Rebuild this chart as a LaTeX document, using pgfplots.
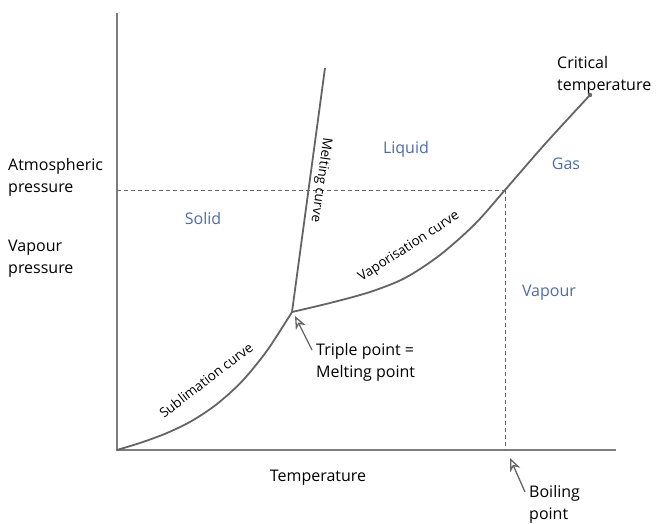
\documentclass[border=0pt]{standalone}
\usepackage{pgfplots}
\pgfplotsset{compat=1.18}
\usepackage{fontspec}
\setmainfont{Open Sans}
\usetikzlibrary{arrows.meta}
\definecolor{axisgray}{RGB}{125,125,125}
\definecolor{curvegray}{RGB}{100,100,100}
\definecolor{phaseblue}{RGB}{78,108,168}
\begin{document}
\begin{tikzpicture}[
    font=\fontsize{16}{22}\selectfont,
    curvelbl/.style={font=\fontsize{13.5}{16}\selectfont, inner sep=0pt},
    blk/.style={anchor=north west, align=left, inner sep=0pt},
    tip/.style={curvegray, line width=1.3pt, -{Stealth[open, length=13pt, width=11pt, inset=4pt]}},
]
\begin{axis}[
    scale only axis,
    width=499pt, height=437pt,
    xmin=0, xmax=499,
    ymin=0, ymax=437,
    axis lines=none,
    clip=false,
]
% bounding box of the whole figure
\path (axis cs:-117,-71) rectangle (axis cs:539,450);

% axes
\addplot[axisgray, line width=2pt] coordinates {(0,437)(0,0)(499,0)};

% dashed guide lines
\addplot[curvegray, line width=1pt, dash pattern=on 4pt off 3pt] coordinates {(0,260)(388,260)};
\addplot[curvegray, line width=1pt, dash pattern=on 4pt off 3pt] coordinates {(388,260)(388,0)};

% sublimation curve
\addplot[curvegray, line width=1.8pt, smooth] coordinates {
    (0,0)(25,7.7)(50,17)(75,29.2)(100,46)(125,68.7)(150,99.3)(175,138)
};
% melting curve
\addplot[curvegray, line width=1.8pt] coordinates {(175,138)(208,382)};
% vaporisation curve
\addplot[curvegray, line width=1.8pt, smooth] coordinates {
    (175,138)(213,147)(253,158)(288,172)(323,195)(358,226)(388,260)(428,306)(473,355)
};
% critical point
\addplot[curvegray, only marks, mark=*, mark size=2pt] coordinates {(473,355)};

% arrows
\draw[tip] (axis cs:195,100) -- (axis cs:178,134);
\draw[tip] (axis cs:408,-42) -- (axis cs:393,-8);

% phase labels
\node[phaseblue, anchor=base] at (axis cs:289,297) {Liquid};
\node[phaseblue, anchor=base] at (axis cs:449,281) {Gas};
\node[phaseblue, anchor=base] at (axis cs:86,226) {Solid};
\node[phaseblue, anchor=base] at (axis cs:432,154) {Vapour};

% other labels
\node[blk] at (axis cs:440,394) {Critical\\temperature};
\node[blk] at (axis cs:-109,292) {Atmospheric\\pressure};
\node[blk] at (axis cs:-109,210) {Vapour\\pressure};
\node[anchor=base] at (axis cs:201,-31) {Temperature};
\node[blk] at (axis cs:412,-35) {Boiling\\point};
\node[blk] at (axis cs:199,107) {Triple point =\\Melting point};

% curve labels
\node[curvelbl, rotate=-98] at (axis cs:204,270) {Melting curve};
\node[curvelbl, rotate=33] at (axis cs:292,203) {Vaporisation curve};
\node[curvelbl, rotate=37.5] at (axis cs:89,70) {Sublimation curve};
\end{axis}
\end{tikzpicture}
\end{document}
